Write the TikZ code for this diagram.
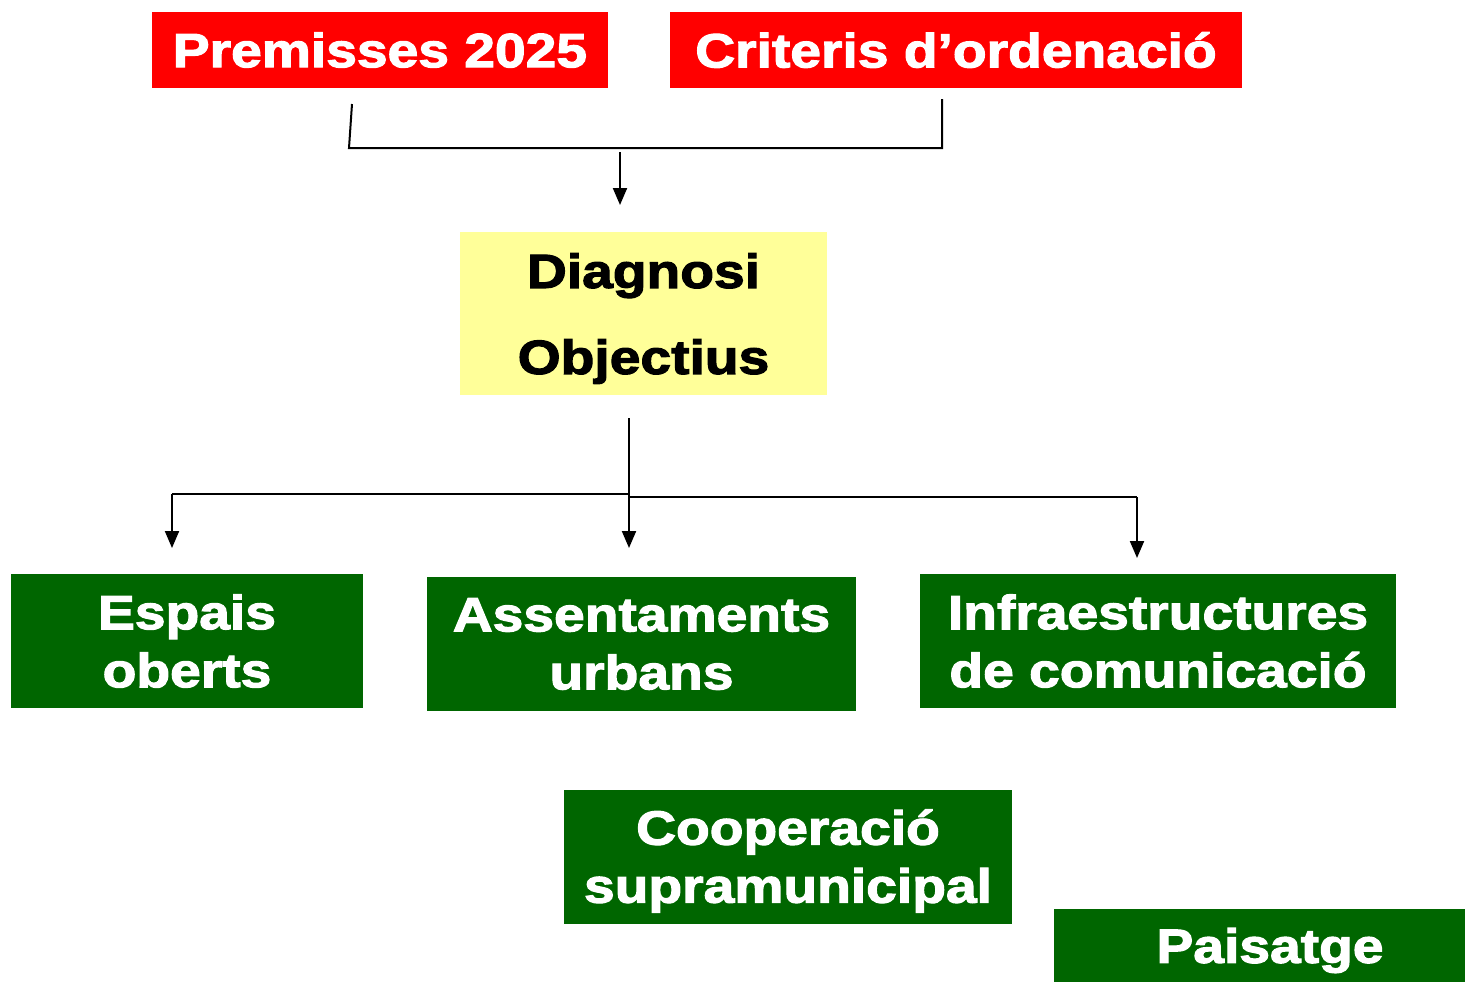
\documentclass[tikz,border=0pt]{standalone}
\usepackage{fontspec}
\setmainfont{Liberation Sans}[BoldFeatures={FakeBold=2.4,FakeStretch=1.15}]
\usetikzlibrary{arrows.meta}
\definecolor{boxred}{HTML}{FF0000}
\definecolor{boxgreen}{HTML}{006600}
\definecolor{boxyellow}{HTML}{FFFF99}
\tikzset{
  box/.style={rectangle, inner sep=0pt},
  txt/.style={inner sep=0pt, font=\bfseries\fontsize{24}{29}\selectfont, align=center},
  redbox/.style={box, fill=boxred},
  greenbox/.style={box, fill=boxgreen},
  yellowbox/.style={box, fill=boxyellow},
  wtxt/.style={txt, text=white},
  btxt/.style={txt, text=black, font=\bfseries\fontsize{24}{43}\selectfont},
  conn/.style={line width=1pt, draw=black},
  arr/.style={conn, -{Triangle[width=7pt,length=8.5pt]}}
}
\begin{document}
\begin{tikzpicture}[x=0.5pt,y=-0.5pt]
\useasboundingbox (0,0) rectangle (1465,982);
\node[redbox, minimum width=228pt, minimum height=38pt] (prem) at (380,50) {};
\node[wtxt] (premt) at (prem.center) {Premisses 2025};
\node[redbox, minimum width=286pt, minimum height=38pt] (crit) at (956,50) {};
\node[wtxt] (critt) at (crit.center) {Criteris d’ordenació};
\node[yellowbox, minimum width=183.5pt, minimum height=81.5pt] (diag) at (643.5,313.5) {};
\node[btxt] (diagt) at ([yshift=-2.5pt]diag.center) {Diagnosi\\Objectius};
\node[greenbox, minimum width=176pt, minimum height=67pt] (esp) at (187,641) {};
\node[wtxt] (espt) at ([yshift=0pt]esp.center) {Espais\\oberts};
\node[greenbox, minimum width=214.5pt, minimum height=67pt] (ass) at (641.5,644) {};
\node[wtxt] (asst) at ([yshift=0pt]ass.center) {Assentaments\\urbans};
\node[greenbox, minimum width=238pt, minimum height=67pt] (inf) at (1158,641) {};
\node[wtxt] (inft) at ([yshift=0pt]inf.center) {Infraestructures\\de comunicació};
\node[greenbox, minimum width=224pt, minimum height=67pt] (coop) at (788,857) {};
\node[wtxt] (coopt) at ([yshift=-2pt]coop.center) {Cooperació\\supramunicipal};
\node[greenbox, minimum width=205.5pt, minimum height=36.5pt] (pais) at (1259.5,945.5) {};
\node[wtxt] (paist) at ([xshift=5.25pt,yshift=-2.5pt]pais.center) {Paisatge};
% top bracket
\coordinate (pl) at (352,104);
\coordinate (pr) at (942,99);
\coordinate (bl) at (349,148);
\coordinate (br) at (942,148);
\coordinate (a1) at (620,152);
\coordinate (a2) at (620,205);
\draw[conn] (pl) -- (bl) -- (br) -- (pr);
\draw[arr] (a1) -- (a2);
% lower distribution
\coordinate (d0) at (629,418);
\coordinate (dj) at (629,494);
\coordinate (dm) at (629,548);
\coordinate (dl) at (172,494);
\coordinate (dle) at (172,548);
\coordinate (dr) at (1137,497);
\coordinate (dre) at (1137,558);
\coordinate (dr0) at (629,497);
\draw[conn] (dl) -- (dj);
\draw[conn] (dr0) -- (dr);
\draw[arr] (d0) -- (dm);
\draw[arr] (dl) -- (dle);
\draw[arr] (dr) -- (dre);
\end{tikzpicture}
\end{document}
